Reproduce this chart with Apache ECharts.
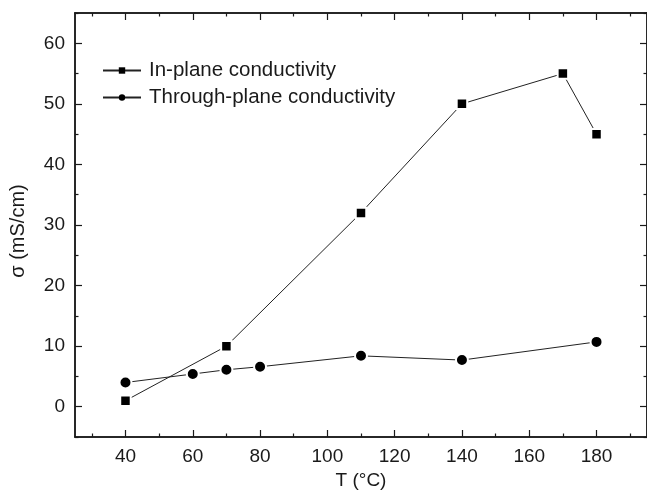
<!DOCTYPE html>
<html>
<head>
<meta charset="utf-8">
<script src="https://cdn.jsdelivr.net/npm/echarts@6/dist/echarts.min.js"></script>
<style>
  html, body { margin: 0; padding: 0; background: #fff; }
  #chart { width: 647px; height: 501px; }
</style>
</head>
<body>
<div id="chart"></div>
<script>
// data
var inPlaneT = [40, 70, 110, 140, 170, 180]
var inPlaneSigma = [1.0, 10.0, 32.0, 50.0, 55.0, 45.0]
var throughT = [40, 60, 70, 80, 110, 140, 180]
var throughSigma = [4.0, 5.4, 6.1, 6.6, 8.4, 7.7, 10.7]

var xMajor = [40, 60, 80, 100, 120, 140, 160, 180]
var xMinor = [30, 50, 70, 90, 110, 130, 150, 170, 190]
var yMajor = [0, 10, 20, 30, 40, 50, 60]
var yMinor = [-5, 5, 15, 25, 35, 45, 55, 65]

var font = 'Liberation Sans, Arial, sans-serif'
var ink = '#1a1a1a'

function zip(xs, ys) {
	return xs.map(function (x, i) { return [x, ys[i]] })
}

function xAxisDef(pos, ticks, len, labels) {
	return {
		type: 'value',
		position: pos,
		min: 25,
		max: 195,
		splitLine: { show: false },
		axisLine: { show: true, onZero: false, lineStyle: { color: ink, width: 1.5 } },
		axisTick: { show: true, inside: true, length: len, customValues: ticks, lineStyle: { color: ink, width: 1.2 } },
		axisLabel: labels
			? { show: true, customValues: ticks, margin: 10, color: ink, fontSize: 19, fontFamily: font }
			: { show: false },
	}
}

function yAxisDef(pos, ticks, len, labels) {
	return {
		type: 'value',
		position: pos,
		min: -5,
		max: 65,
		splitLine: { show: false },
		axisLine: { show: true, onZero: false, lineStyle: { color: ink, width: 1.5 } },
		axisTick: { show: true, inside: true, length: len, customValues: ticks, lineStyle: { color: ink, width: 1.2 } },
		axisLabel: labels
			? { show: true, customValues: ticks, margin: 10, color: ink, fontSize: 19, fontFamily: font }
			: { show: false },
	}
}

var chart = echarts.init(document.getElementById('chart'), null, { renderer: 'canvas' })

var xMain = xAxisDef('bottom', xMajor, 7, true)
xMain.name = 'T (\u00b0C)'
xMain.nameLocation = 'middle'
xMain.nameGap = 33
xMain.nameTextStyle = { color: ink, fontSize: 19, fontFamily: font }

var yMain = yAxisDef('left', yMajor, 7, true)
yMain.name = '\u03c3 (mS/cm)'
yMain.nameLocation = 'middle'
yMain.nameGap = 47
// right padding nudges the rotated name a little down, as in the figure
yMain.nameTextStyle = { color: ink, fontSize: 20, fontFamily: font, padding: [0, 12, 0, 0] }

chart.setOption({
	backgroundColor: '#fff',
	animation: false,
	grid: { left: 74, top: 13, width: 575, height: 424 },
	legend: {
		orient: 'vertical',
		left: 97,
		top: 55,
		itemWidth: 38,
		itemHeight: 8,
		itemGap: 6,
		textStyle: { color: ink, fontSize: 20.5, fontFamily: font, padding: [0, 0, 0, 3] },
		itemStyle: { borderWidth: 0 },
		data: ['In-plane conductivity', 'Through-plane conductivity'],
	},
	xAxis: [
		xMain,
		xAxisDef('bottom', xMinor, 3.5, false),
		xAxisDef('top', xMajor, 7, false),
		xAxisDef('top', xMinor, 3.5, false),
	],
	yAxis: [
		yMain,
		yAxisDef('left', yMinor, 3.5, false),
		yAxisDef('right', yMajor, 7, false),
		yAxisDef('right', yMinor, 3.5, false),
	],
	series: [
		{
			name: 'In-plane conductivity',
			type: 'line',
			data: zip(inPlaneT, inPlaneSigma),
			symbol: 'rect',
			symbolSize: 10.5,
			showAllSymbol: true,
			color: '#000',
			lineStyle: { color: '#222', width: 1 },
			itemStyle: { color: '#000', borderColor: '#fff', borderWidth: 2 },
		},
		{
			name: 'Through-plane conductivity',
			type: 'line',
			data: zip(throughT, throughSigma),
			symbol: 'circle',
			symbolSize: 12,
			showAllSymbol: true,
			color: '#000',
			lineStyle: { color: '#222', width: 1 },
			itemStyle: { color: '#000', borderColor: '#fff', borderWidth: 2 },
		},
	],
})
</script>
</body>
</html>
